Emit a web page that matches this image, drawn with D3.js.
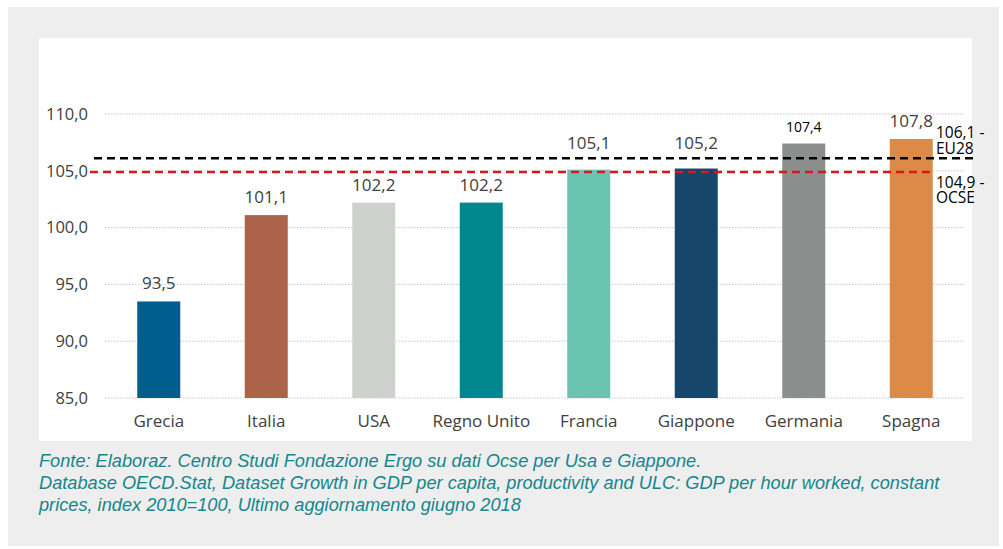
<!DOCTYPE html>
<html>
<head>
<meta charset="utf-8">
<script src="https://cdn.jsdelivr.net/npm/d3@7"></script>
<style>
  body { margin: 0; background: #fff; }
  svg { display: block; }
</style>
</head>
<body>
<svg></svg>
<script>
'use strict';
// data
var countries = ['Grecia', 'Italia', 'USA', 'Regno Unito', 'Francia', 'Giappone', 'Germania', 'Spagna'];
var values = [93.5, 101.1, 102.2, 102.2, 105.1, 105.2, 107.4, 107.8];
var barColors = ['#005e8e', '#ab634a', '#cfd1cf', '#00868f', '#6bc4b0', '#16476a', '#8a8e8c', '#dc8a45'];
var yTicks = [85, 90, 95, 100, 105, 110];
var refLines = [
  { value: 106.1, name: 'EU28', color: '#000000' },
  { value: 104.9, name: 'OCSE', color: '#d7191c' }
];
var captionLines = [
  'Fonte: Elaboraz. Centro Studi Fondazione Ergo su dati Ocse per Usa e Giappone.',
  'Database OECD.Stat, Dataset Growth in GDP per capita, productivity and ULC: GDP per hour worked, constant',
  'prices, index 2010=100, Ultimo aggiornamento giugno 2018'
];

var canvasWidth = 1003;
var canvasHeight = 549;
var svg = d3.select('svg')
  .attr('width', canvasWidth)
  .attr('height', canvasHeight);

var fmt = function(v) { return d3.format('.1f')(v).replace('.', ','); };

// background panels
svg.append('rect')
  .attr('x', 8).attr('y', 7)
  .attr('width', 991).attr('height', 539)
  .attr('fill', '#edeeed');
svg.append('rect')
  .attr('x', 39).attr('y', 38)
  .attr('width', 933).attr('height', 403)
  .attr('fill', '#ffffff');

var xScale = d3.scaleBand().domain(countries).range([105, 965]).paddingInner(0.6).paddingOuter(0.3);
var yScale = d3.scaleLinear().domain([85, 110]).range([398, 114]);

// gridlines
svg.append('g')
  .selectAll('line')
  .data(yTicks)
  .enter().append('line')
  .attr('x1', 105).attr('x2', 964)
  .attr('y1', function(d) { return yScale(d); })
  .attr('y2', function(d) { return yScale(d); })
  .attr('stroke', '#c8c8c8')
  .attr('stroke-width', 1)
  .attr('stroke-dasharray', '1.5,1.5');

// y axis
var yAxis = svg.append('g')
  .attr('transform', 'translate(88,0)')
  .call(d3.axisLeft(yScale).tickValues(yTicks).tickFormat(fmt).tickSize(0).tickPadding(0));
yAxis.select('.domain').remove();
yAxis.selectAll('text')
  .style('font-family', '"Open Sans", sans-serif')
  .style('font-size', '16.5px')
  .attr('fill', '#404040');

// x axis
var xAxis = svg.append('g')
  .attr('transform', 'translate(0,' + 415 + ')')
  .call(d3.axisBottom(xScale).tickSize(0).tickPadding(0));
xAxis.select('.domain').remove();
xAxis.selectAll('text')
  .style('font-family', '"Open Sans", sans-serif')
  .style('font-size', '17px')
  .attr('fill', '#404040');

// bars
var bars = countries.map(function(c, i) { return { name: c, value: values[i], color: barColors[i] }; });
svg.selectAll('.bar')
  .data(bars)
  .enter().append('rect')
  .attr('class', 'bar')
  .attr('x', function(d) { return xScale(d.name); })
  .attr('width', xScale.bandwidth())
  .attr('y', function(d) { return yScale(d.value); })
  .attr('height', function(d) { return yScale(85) - yScale(d.value); })
  .attr('fill', function(d) { return d.color; });

// value labels, lifted above the reference lines when they would touch them
var labelY = function(d) {
  var y = yScale(d.value) - 12;
  var lineTop = yScale(refLines[0].value) - 6;
  if (y > lineTop && y - 16 < yScale(refLines[1].value)) y = lineTop - 3;
  return y;
};
svg.selectAll('.val')
  .data(bars)
  .enter().append('text')
  .attr('class', 'val')
  .attr('x', function(d) { return xScale(d.name) + xScale.bandwidth() / 2; })
  .attr('y', labelY)
  .attr('text-anchor', 'middle')
  .style('font-family', '"Open Sans", sans-serif')
  .style('font-size', function(d) { return d.name === 'Germania' ? '14px' : '17px'; })
  .attr('fill', function(d) { return d.name === 'Germania' ? '#000000' : '#404040'; })
  .text(function(d) { return fmt(d.value); });

// reference lines
svg.append('line')
  .attr('x1', 94).attr('x2', 977)
  .attr('y1', yScale(refLines[0].value)).attr('y2', yScale(refLines[0].value))
  .attr('stroke', refLines[0].color)
  .attr('stroke-width', 2.5)
  .attr('stroke-dasharray', '8,5');
svg.append('line')
  .attr('x1', 90).attr('x2', 935)
  .attr('y1', yScale(refLines[1].value)).attr('y2', yScale(refLines[1].value))
  .attr('stroke', refLines[1].color)
  .attr('stroke-width', 2.5)
  .attr('stroke-dasharray', '8,5');

// reference labels
var refLabel = function(d, y1, y2) {
  var t = svg.append('text')
    .style('font-family', '"Open Sans", sans-serif')
    .style('font-size', '15.5px')
    .attr('fill', '#000');
  t.append('tspan').attr('x', 936).attr('y', y1).text(fmt(d.value) + ' -');
  t.append('tspan').attr('x', 936).attr('y', y2).text(d.name);
};
refLabel(refLines[0], yScale(refLines[0].value) - 20, yScale(refLines[0].value) - 4);
refLabel(refLines[1], yScale(refLines[1].value) + 16, yScale(refLines[1].value) + 31);

// caption
svg.append('g')
  .selectAll('text')
  .data(captionLines)
  .enter().append('text')
  .attr('x', 39)
  .attr('y', function(d, i) { return 467 + i * 22; })
  .style('font-family', '"Liberation Sans", Arial, sans-serif')
  .style('font-size', '18.2px')
  .style('font-style', 'italic')
  .attr('fill', '#15868c')
  .text(function(d) { return d; });
</script>
</body>
</html>
